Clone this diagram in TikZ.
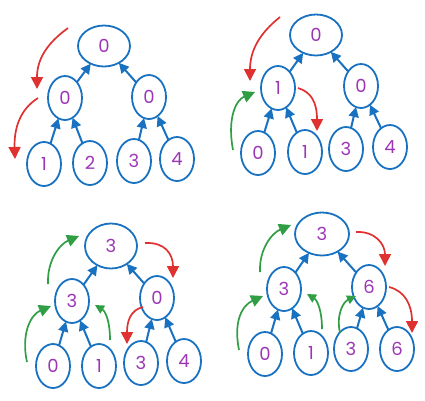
\documentclass[tikz,border=0pt]{standalone}
\usepackage{fontspec}
\setmainfont{Poppins}
\usetikzlibrary{shapes.geometric,arrows.meta}
\definecolor{exblue}{HTML}{1971C2}
\definecolor{expurple}{HTML}{9C36B5}
\definecolor{exred}{HTML}{E03131}
\definecolor{exgreen}{HTML}{2F9E44}
\tikzset{
  nd/.style={ellipse, draw=exblue, line width=1.8pt, text=expurple, inner sep=0pt, outer sep=0pt,
    font=\fontsize{18}{18}\selectfont, minimum width=34pt, minimum height=44pt},
  rootnd/.style={nd, minimum width=52pt, minimum height=41pt},
  up/.style={draw=exblue, line width=2pt, -{Triangle[length=10pt,width=10pt]}},
  redarr/.style={draw=exred, line width=1.7pt, -{Triangle[length=12pt,width=12pt]}},
  greenarr/.style={draw=exgreen, line width=1.7pt, -{Triangle[length=12pt,width=12pt]}},
  smallhead/.style={-{Triangle[length=9pt,width=9pt]}},
}
\begin{document}
\begin{tikzpicture}[x=1pt,y=-1pt]
\useasboundingbox (0,0) rectangle (425,400);
% ---------- Panel 1 ----------
\node[rootnd] (a0) at (104,46) {0};
\node[nd] (a1) at (65,98) {0};
\node[nd] (a2) at (149,97) {0};
\node[nd] (a3) at (44,164) {1};
\node[nd] (a4) at (90,163) {2};
\node[nd] (a5) at (134,161) {3};
\node[nd] (a6) at (177,159) {4};
\draw[up] (a1) -- (a0);
\draw[up] (a2) -- (a0);
\draw[up] (a3) -- (a1);
\draw[up] (a4) -- (a1);
\draw[up] (a5) -- (a2);
\draw[up] (a6) -- (a2);
\draw[redarr] (68,28) .. controls (46,44) and (37,60) .. (37,89);
\draw[redarr] (38,98) .. controls (19,110) and (14,130) .. (15,159);
% ---------- Panel 2 ----------
\node[rootnd] (b0) at (316,35) {0};
\node[nd] (b1) at (278,88) {1};
\node[nd] (b2) at (361,86) {0};
\node[nd] (b3) at (258,153) {0};
\node[nd] (b4) at (305,152) {1};
\node[nd] (b5) at (346,149) {3};
\node[nd] (b6) at (390,147) {4};
\draw[up] (b1) -- (b0);
\draw[up] (b2) -- (b0);
\draw[up] (b3) -- (b1);
\draw[up] (b4) -- (b1);
\draw[up] (b5) -- (b2);
\draw[up] (b6) -- (b2);
\draw[redarr] (280,17) .. controls (260,33) and (250,50) .. (250,81);
\draw[greenarr] (233,150) .. controls (227,118) and (236,100) .. (255,92);
\draw[redarr] (298,88) .. controls (311,92) and (317,102) .. (317,131);
% ---------- Panel 3 ----------
\node[rootnd, minimum height=45pt] (c0) at (111,246) {3};
\node[nd] (c1) at (72,301) {3};
\node[nd] (c2) at (157,298) {0};
\node[nd] (c3) at (53,366) {0};
\node[nd] (c4) at (99,366) {1};
\node[nd] (c5) at (141,363) {3};
\node[nd] (c6) at (184,361) {4};
\draw[up] (c1) -- (c0);
\draw[up] (c2) -- (c0);
\draw[up] (c3) -- (c1);
\draw[up] (c4) -- (c1);
\draw[up] (c5) -- (c2);
\draw[up] (c6) -- (c2);
\draw[greenarr] (48,284) .. controls (47,260) and (60,244) .. (79,236);
\draw[greenarr] (27,362) .. controls (21,335) and (30,315) .. (51,306);
\draw[greenarr, smallhead] (110,340) .. controls (110,320) and (105,311) .. (95,305);
\draw[redarr] (145,243) .. controls (165,242) and (173,254) .. (173,278);
\draw[redarr] (143,307) .. controls (130,310) and (127,322) .. (127,344);
% ---------- Panel 4 ----------
\node[rootnd, minimum width=54pt, minimum height=43pt] (d0) at (322,234) {3};
\node[nd] (d1) at (284,289) {3};
\node[nd] (d2) at (369,287) {6};
\node[nd] (d3) at (265,354) {0};
\node[nd] (d4) at (311,353) {1};
\node[nd] (d5) at (351,349) {3};
\node[nd] (d6) at (397,349) {6};
\draw[up] (d1) -- (d0);
\draw[up] (d2) -- (d0);
\draw[up] (d3) -- (d1);
\draw[up] (d4) -- (d1);
\draw[up] (d5) -- (d2);
\draw[up] (d6) -- (d2);
\draw[greenarr] (260,272) .. controls (259,249) and (272,233) .. (291,225);
\draw[greenarr] (239,350) .. controls (233,320) and (243,305) .. (263,296);
\draw[greenarr, smallhead] (322,329) .. controls (322,310) and (317,300) .. (307,294);
\draw[greenarr, smallhead] (340,333) .. controls (336,315) and (343,302) .. (356,296);
\draw[redarr] (356,232) .. controls (375,231) and (385,244) .. (385,266);
\draw[redarr] (389,287) .. controls (405,291) and (412,305) .. (412,333);
\end{tikzpicture}
\end{document}
